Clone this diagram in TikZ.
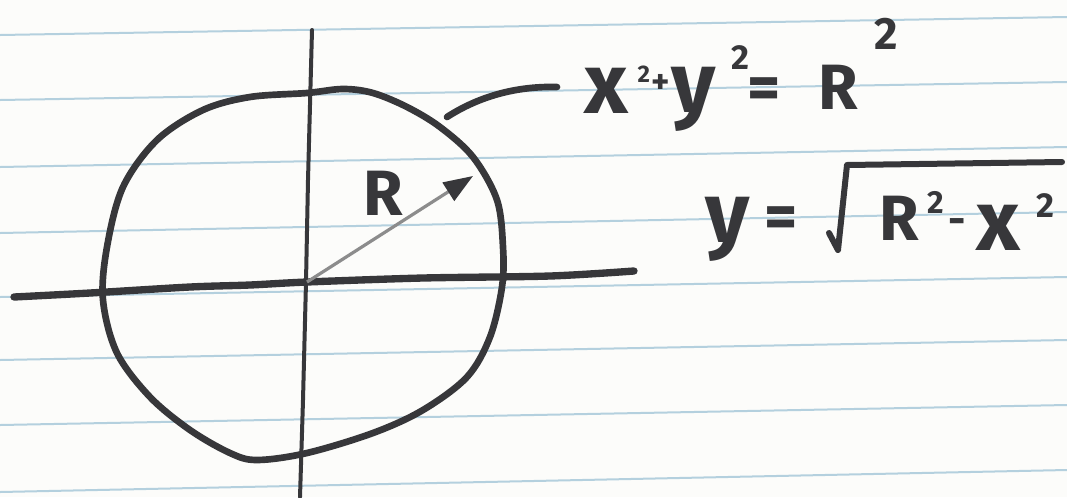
\documentclass[tikz,border=0pt]{standalone}
\usepackage{fontspec}
\setmainfont{Fira Sans}
\usetikzlibrary{arrows.meta}
\definecolor{ink}{RGB}{55,55,58}
\definecolor{rulecol}{RGB}{180,208,222}
\definecolor{paper}{RGB}{252,252,250}
\definecolor{shaft}{RGB}{140,140,140}
\newdimen\pxu \pxu=0.75pt
\newcommand\glyphat[3]{\makebox[0pt][l]{\hspace*{#1\pxu}\makebox[0pt]{\raisebox{#2\pxu}{#3}}}}
\newcommand\fbig{\fontsize{64}{64}\selectfont}
\newcommand\fmain{\fontsize{48}{48}\selectfont}
\newcommand\fsz[1]{\fontsize{#1}{#1}\selectfont}
\begin{document}
\begin{tikzpicture}[x=0.75pt,y=-0.75pt,
  inkline/.style={draw=ink,line cap=round,line join=round},
  handtext/.style={inner sep=0pt,anchor=base west,text=ink,font=\bfseries}]
\useasboundingbox (0,0) rectangle (1067,497);
\fill[paper] (0,0) rectangle (1067,497);
% ruled paper
\foreach \yl/\yr in {35/17,100/82,167/147,233/212,297/277,360/340,425/405,492/470}
  \draw[rulecol,line width=1.5pt] (0,\yl) -- (1067,\yr);
% axes
\draw[inkline,line width=3pt] (312,30) -- (308,180) -- (306,282) -- (303,400) -- (300,497);
\draw[inkline,line width=5.5pt] plot[smooth] coordinates {(14,297) (90,293) (190,287) (250,285) (307,282) (423,278) (550,276) (634,271)};
% circle
\draw[inkline,line width=5pt] plot[smooth cycle,tension=0.55] coordinates {
 (307,93) (343,89) (373,93) (407,107) (440,127) (473,157) (497,200) (503,247)
 (502,287) (490,337) (467,377) (423,410) (373,433) (307,453) (257,460) (230,453)
 (190,430) (150,397) (117,353) (103,300) (107,247) (123,187) (157,140) (203,110) (250,97)};
% radius arrow
\coordinate (O) at (307,282);
\coordinate (T) at (473,176);
\draw[shaft,line width=2.4pt,-{Triangle[length=22pt,width=16pt,color=ink]}] (O) -- (T);
\node[inner sep=0pt,text=ink,font=\bfseries\fmain] (Rlab) at (383,193) {R};
% leader to the equation
\coordinate (L1) at (447,117);
\coordinate (L2) at (557,87);
\draw[inkline,line width=5pt] (L1) .. controls (478,97) and (515,86) .. (L2);
% equation 1
\node[handtext] (eqa) at (588,109) {%
\glyphat{18.5}{-4}{\fbig x}%
\glyphat{55.5}{27}{\fsz{18}2}%
\glyphat{72}{16}{\fsz{26}+}%
\glyphat{105.5}{-3}{\fbig y}%
\glyphat{152}{40}{\fsz{26}2}%
\glyphat{176}{0}{\fmain =}%
\glyphat{250}{0}{\fmain R}%
\glyphat{298}{60}{\fsz{34}2}%
\hspace*{319\pxu}};
% equation 2
\draw[inkline,line width=4.5pt] (829,233) -- (838,250) -- (847,165) -- (1062,162);
\node[handtext] (eqb) at (700,242) {%
\glyphat{27.5}{0}{\fbig y}%
\glyphat{81}{4}{\fmain =}%
\glyphat{199}{2}{\fmain R}%
\glyphat{235}{29}{\fsz{24}2}%
\glyphat{257}{8}{\fsz{32}-}%
\glyphat{298}{-8}{\fbig x}%
\glyphat{345}{25}{\fsz{26}2}%
\hspace*{362\pxu}};
\end{tikzpicture}
\end{document}
